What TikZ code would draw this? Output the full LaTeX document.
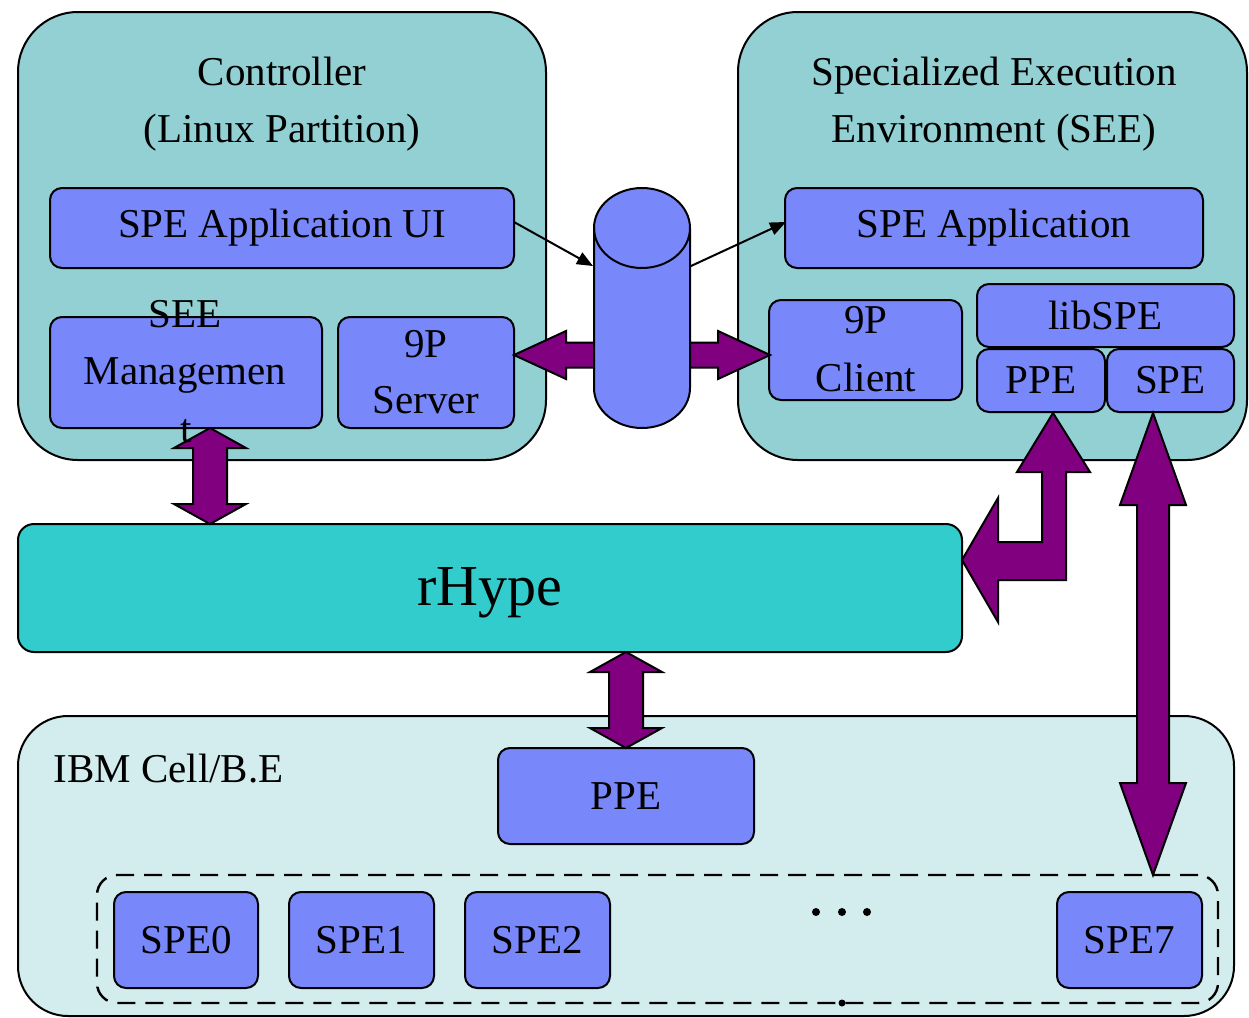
\documentclass[tikz,border=0pt]{standalone}
\usepackage{fontspec}
\setmainfont{Liberation Serif}
\usetikzlibrary{arrows.meta,calc}
\definecolor{panelteal}{HTML}{92D0D3}
\definecolor{blkblue}{HTML}{7888FA}
\definecolor{hypeteal}{HTML}{33CCCC}
\definecolor{cellbg}{HTML}{D3ECED}
\definecolor{fatpurple}{HTML}{800080}
\newcommand\fatvarrow[5]{% top, bottom, shaft half, head half, head length
 \draw[fat] (#1) -- ($(#1)+(#4,#5)$) -- ($(#1)+(#3,#5)$) -- ($(#2)+(#3,-#5)$) -- ($(#2)+(#4,-#5)$) -- (#2) -- ($(#2)+(-#4,-#5)$) -- ($(#2)+(-#3,-#5)$) -- ($(#1)+(-#3,#5)$) -- ($(#1)+(-#4,#5)$) -- cycle;}
\newcommand\fathdarrow[5]{% left, right, shaft half, head half, head length
 \draw[fat] (#1) -- ($(#1)+(#5,-#4)$) -- ($(#1)+(#5,-#3)$) -- ($(#2)+(-#5,-#3)$) -- ($(#2)+(-#5,-#4)$) -- (#2) -- ($(#2)+(-#5,#4)$) -- ($(#2)+(-#5,#3)$) -- ($(#1)+(#5,#3)$) -- ($(#1)+(#5,#4)$) -- cycle;}
% style, name, x1, y1, x2, y2, text   (pixel coordinates)
\newcommand\boxnode[7]{\node[#1,minimum width={(#5-#3)*0.5pt},minimum height={(#6-#4)*0.5pt}] (#2) at ({(#3+#5)/2},{(#4+#6)/2}) {#7};}
\begin{document}
\begin{tikzpicture}[x=0.5pt,y=-0.5pt,
 panel/.style={draw=black,line width=1pt,fill=panelteal,rounded corners=30pt,inner sep=0pt},
 blk/.style={draw=black,line width=1pt,fill=blkblue,rounded corners=6pt,inner sep=0pt,font=\fontsize{20.5}{28}\selectfont},
 lbl/.style={font=\fontsize{20.5}{28}\selectfont,inner sep=0pt},
 fat/.style={draw=black,line width=1pt,fill=fatpurple,line join=miter},
 thinarrow/.style={line width=1pt,-{Triangle[length=8pt,width=6.5pt]}},
 dot/.style={circle,fill=black,inner sep=0pt,minimum size=4pt},
 cellstyle/.style={draw=black,line width=1pt,fill=cellbg,rounded corners=25pt,inner sep=0pt},
 hypestyle/.style={draw=black,line width=1pt,fill=hypeteal,rounded corners=8pt,inner sep=0pt},
 grpstyle/.style={draw=black,line width=1.2pt,dash pattern=on 9pt off 5pt,rounded corners=10pt,inner sep=0pt},
 hidden/.style={inner sep=0pt},
]
\useasboundingbox (0,0) rectangle (1249,1018);

% ---- panels ----
\boxnode{panel}{ctrl}{18}{12}{546}{460}{}
\boxnode{panel}{see}{738}{12}{1247}{460}{}
\boxnode{cellstyle}{cell}{18}{716}{1234}{1016}{}
\boxnode{hypestyle}{rhype}{18}{524}{962}{652}{}
\node[inner sep=0pt,anchor=base,font=\fontsize{29}{34}\selectfont] (rhypetxt) at (490,605) {rHype};

% ---- titles ----
\node[lbl,anchor=base] (ctitle1) at (282,85) {Controller};
\node[lbl,anchor=base] (ctitle2) at (282,142) {(Linux Partition)};
\node[lbl,anchor=base] (stitle1) at (994,85) {Specialized Execution};
\node[lbl,anchor=base] (stitle2) at (994,142) {Environment (SEE)};
\node[lbl,anchor=base west] (celltitle) at (53,782) {IBM Cell/B.E};

% ---- controller contents ----
\boxnode{blk}{ui}{50}{188}{514}{268}{SPE Application UI}
\boxnode{blk}{mgmt}{50}{317}{322}{428}{}
\boxnode{blk}{srv}{338}{317}{514}{428}{}
\node[lbl,anchor=base] (srv1) at (426,357) {9P};
\node[lbl,anchor=base] (srv2) at (426,413) {Server};

% ---- SEE contents ----
\boxnode{blk}{app}{785}{188}{1203}{268}{SPE Application}
\boxnode{blk}{cli}{769}{300}{962}{400}{}
\node[lbl,anchor=base] (cli1) at (866,333) {9P};
\node[lbl,anchor=base] (cli2) at (866,391) {Client};
\boxnode{blk}{lib}{977}{284}{1234}{347}{libSPE}
\boxnode{blk}{lppe}{977}{349}{1105}{412}{PPE}
\boxnode{blk}{lspe}{1107}{349}{1234}{412}{SPE}

% ---- Cell contents ----
\boxnode{blk}{ppe}{498}{748}{754}{844}{PPE}
\boxnode{grpstyle}{grp}{97}{875}{1218}{1003}{}
\boxnode{blk}{spe0}{114}{892}{258}{988}{SPE0}
\boxnode{blk}{spe1}{289}{892}{434}{988}{SPE1}
\boxnode{blk}{spe2}{465}{892}{610}{988}{SPE2}
\boxnode{blk}{spe7}{1057}{892}{1202}{988}{SPE7}
\node[dot] (d1) at (816,912) {};
\node[dot] (d2) at (842,912) {};
\node[dot] (d3) at (867,912) {};
\node[dot,minimum size=3.5pt] (d4) at (842,1003) {};

% ---- channel cylinder ----
\boxnode{hidden}{cyl}{594}{188}{690}{428}{}
\coordinate (srvport) at (514,355);
\coordinate (cliport) at (770,355);
\fathdarrow{srvport}{cliport}{12.5}{24}{52}
\filldraw[line width=1pt,fill=blkblue,draw=black]
  (594,228) -- (594,388) arc[start angle=180,end angle=360,x radius=24pt,y radius=20pt]
  -- (690,228) arc[start angle=0,end angle=180,x radius=24pt,y radius=20pt] -- cycle;
\draw[line width=1pt] (594,228) arc[start angle=180,end angle=360,x radius=24pt,y radius=20pt];

% ---- thin arrows ----
\coordinate (uiout) at (514,222);
\coordinate (cylin) at (593,266);
\coordinate (cylout) at (691,266);
\coordinate (appin) at (786,222);
\draw[thinarrow] (uiout) -- (cylin);
\draw[thinarrow] (cylout) -- (appin);

% ---- fat arrows ----
\coordinate (m1) at (210,428);
\coordinate (m2) at (210,524);
\fatvarrow{m1}{m2}{17}{36}{20}
\coordinate (h1) at (626,652);
\coordinate (h2) at (626,748);
\fatvarrow{h1}{h2}{17}{36}{20}
\coordinate (s1) at (1153,413);
\coordinate (s2) at (1153,875);
\fatvarrow{s1}{s2}{16}{33}{92}
\coordinate (ltip) at (962,560);
\coordinate (utip) at (1053,413);
\draw[fat] (ltip) -- (998,498) -- (998,542) -- (1042,542) -- (1042,472) -- (1017,472)
  -- (utip) -- (1090,472) -- (1066,472) -- (1066,580) -- (998,580) -- (998,622) -- cycle;

% ---- overflowing management label ----
\node[lbl,anchor=base] (mg1) at (185,327) {SEE};
\node[lbl,anchor=base] (mg2) at (185,384) {Managemen};
\node[lbl,anchor=base] (mg3) at (186,442) {t};
\end{tikzpicture}
\end{document}
